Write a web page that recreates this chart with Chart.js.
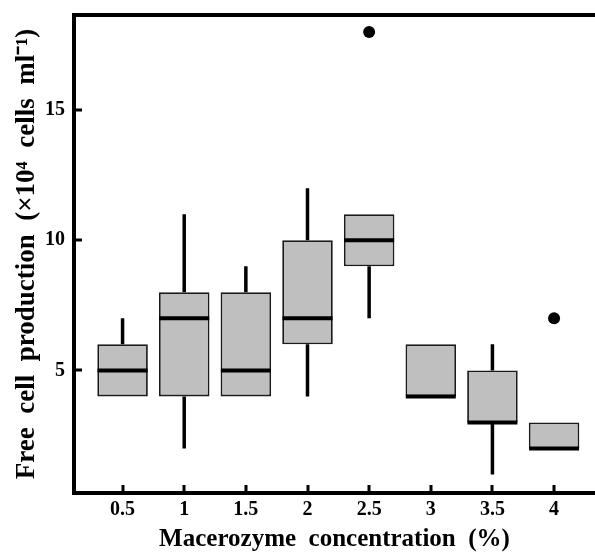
<!DOCTYPE html>
<html>
<head>
<meta charset="utf-8">
<script src="https://cdn.jsdelivr.net/npm/chart.js@4.4.0/dist/chart.umd.min.js"></script>
<style>body{margin:0;background:#fff}</style>
</head>
<body>
<canvas id="chartCajas" width="595" height="552"></canvas>
<script>
// Datos (x10^4 células/ml)
const concentrations = [0.5, 1, 1.5, 2, 2.5, 3, 3.5, 4];
const whiskerLow  = [4, 2, 4, 4, 7, 4, 1, 2];
const q1          = [4, 4, 4, 6, 9, 4, 3, 2];
const medians     = [5, 7, 5, 7, 10, 4, 3, 2];
const q3          = [6, 8, 8, 10, 11, 6, 5, 3];
const whiskerHigh = [7, 11, 9, 12, 11, 6, 6, 3];
const outliersX = [2.5, 4];
const outliersY = [18, 7];
const xTicks = [0.5, 1, 1.5, 2, 2.5, 3, 3.5, 4];
const yTicks = [5, 10, 15];

Chart.defaults.font.family = '"Liberation Serif", "Times New Roman", serif';
Chart.defaults.color = '#000';

// marcas hacia dentro y borde superior
const marcoPlugin = {
    id: 'marco',
    afterDraw(chart) {
        const {ctx, chartArea, scales} = chart;
        ctx.save();
        ctx.strokeStyle = '#000';
        ctx.lineWidth = 3;
        ctx.beginPath();
        xTicks.forEach(v => {
            const px = Math.round(scales.x.getPixelForValue(v));
            ctx.moveTo(px, chartArea.bottom);
            ctx.lineTo(px, chartArea.bottom - 8);
        });
        yTicks.forEach(v => {
            const py = Math.round(scales.y.getPixelForValue(v));
            ctx.moveTo(chartArea.left, py);
            ctx.lineTo(chartArea.left + 8, py);
        });
        ctx.stroke();
        ctx.lineWidth = 4;
        ctx.beginPath();
        ctx.moveTo(chartArea.left - 2, chartArea.top);
        ctx.lineTo(chart.width, chartArea.top);
        ctx.stroke();
        ctx.restore();
    }
};

const ctx = document.getElementById('chartCajas').getContext('2d');
new Chart(ctx, {
    type: 'bar',
    data: {
        datasets: [{
            type: 'line',
            label: 'Bigotes',
            data: concentrations.flatMap((c, i) => [
                {x: c, y: whiskerLow[i]}, {x: c, y: q1[i]}, {x: c, y: null},
                {x: c, y: q3[i]}, {x: c, y: whiskerHigh[i]}, {x: c, y: null}
            ]),
            borderColor: '#000',
            borderWidth: 3.5,
            pointRadius: 0,
            spanGaps: false,
            order: 3
        }, {
            type: 'bar',
            label: 'Cajas',
            data: concentrations.map((c, i) => ({x: c, y: [q1[i], q3[i]]})),
            backgroundColor: '#bfbfbf',
            borderColor: '#1a1a1a',
            borderWidth: 1.8,
            borderSkipped: false,
            categoryPercentage: 0.82,
            barPercentage: 1,
            order: 2
        }, {
            type: 'scatter',
            label: 'Mediana',
            data: concentrations.map((c, i) => ({x: c, y: medians[i]})),
            pointStyle: 'line',
            pointRadius: 25,
            pointBorderWidth: 4,
            pointBorderColor: '#000',
            order: 1
        }, {
            type: 'scatter',
            label: 'Atípicos',
            data: outliersX.map((x, i) => ({x: x, y: outliersY[i]})),
            pointRadius: 6,
            pointBackgroundColor: '#000',
            pointBorderWidth: 0,
            order: 0
        }]
    },
    options: {
        responsive: false,
        animation: false,
        layout: { autoPadding: false, padding: { top: 15, right: 0, left: 0, bottom: 0 } },
        plugins: {
            legend: { display: false },
            tooltip: { enabled: false }
        },
        scales: {
            x: {
                type: 'linear',
                offset: false,
                min: 0.106,
                max: 4.332,
                afterBuildTicks: s => { s.ticks = xTicks.map(v => ({value: v})); },
                afterFit: s => { s.height = 59; s.paddingLeft = 0; s.paddingRight = 0; },
                grid: { display: false, drawTicks: false },
                border: { display: true, width: 4, color: '#000' },
                ticks: {
                    autoSkip: false,
                    maxRotation: 0,
                    padding: 5,
                    font: { size: 20, weight: 'bold' },
                    callback: v => String(v)
                },
                title: {
                    display: true,
                    text: 'Macerozyme  concentration  (%)',
                    font: { size: 25, weight: 'bold', lineHeight: 1 },
                    padding: { top: 0, bottom: 0 }
                }
            },
            y: {
                min: 0.29,
                max: 18.65,
                afterBuildTicks: s => { s.ticks = yTicks.map(v => ({value: v})); },
                afterFit: s => { s.width = 74; s.paddingTop = 0; s.paddingBottom = 0; },
                grid: { display: false, drawTicks: false },
                border: { display: true, width: 4, color: '#000' },
                ticks: {
                    padding: 9,
                    font: { size: 20, weight: 'bold' },
                    callback: v => String(v)
                },
                title: {
                    display: true,
                    text: 'Free  cell  production  (×10⁴  cells  ml⁻¹)',
                    font: { size: 27, weight: 'bold', lineHeight: 1 },
                    padding: { top: 14, bottom: 0 }
                }
            }
        }
    },
    plugins: [marcoPlugin]
});
</script>
</body>
</html>
